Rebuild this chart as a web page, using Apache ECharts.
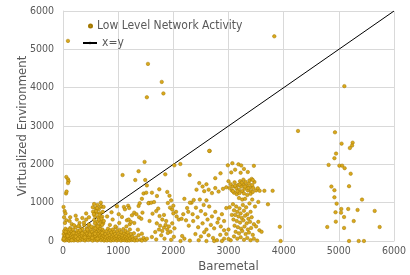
<!DOCTYPE html>
<html>
<head>
<meta charset="utf-8">
<script src="https://cdn.jsdelivr.net/npm/echarts@6/dist/echarts.min.js"></script>
<style>
  html, body { margin: 0; padding: 0; background: #fff; }
  #chart { width: 410px; height: 275px; }
</style>
</head>
<body>
<div id="chart"></div>
<script>
// tick labels
var xTicks = [0, 1000, 2000, 3000, 4000, 5000, 6000];
var yTicks = [0, 1000, 2000, 3000, 4000, 5000, 6000];

// Low Level Network Activity, [baremetal, virtualized]
// dense mass near the origin
var denseLow = [
  [5,35],[12,180],[18,95],[22,260],[30,12],[38,140],[44,320],[51,70],[58,210],[66,25],[73,160],[79,290],
  [88,45],[94,115],[102,230],[109,8],[117,175],[124,60],[131,340],[139,130],[146,20],[153,250],[161,90],
  [168,185],[176,40],[184,300],[191,120],[198,15],[207,220],[214,75],[222,150],[229,360],[237,30],[245,195],
  [252,100],[260,270],[268,10],[275,145],[283,55],[291,230],[298,380],[306,110],[314,20],[321,175],[329,260],
  [337,65],[344,140],[352,310],[360,35],[367,210],[375,90],[383,420],[390,160],[398,15],[406,250],[413,120],
  [421,50],[429,330],[436,190],[444,80],[452,270],[459,25],[467,150],[475,390],[482,100],[490,210],[498,40],
  [505,300],[513,130],[521,60],[528,240],[536,10],[544,170],[552,350],[559,85],[567,200],[575,30],[583,280],
  [590,120],[598,50],[606,230],[614,160],[621,15],[629,310],[637,95],[645,190],[652,40],[660,260],[668,130],
  [676,70],[684,220],[691,20],[699,170],[707,90],[715,300],[723,45],[730,140],[738,250],[746,10],[754,120],
  [15,60],[48,240],[83,130],[120,300],[158,20],[190,210],[233,110],[270,60],[310,280],[348,200],[395,95],
  [440,300],[485,170],[530,80],[580,190],[625,60],[670,330],[710,210]
];
// sparse points above the mass and the plume near 600
var lowUpper = [
  [60,1670],[90,1610],[100,1560],[90,1510],[55,1240],[65,1290],[10,890],[30,780],[45,720],[20,620],
  [60,540],[35,470],[120,520],[160,440],[250,560],[300,470],[350,600],[280,390],[200,410],[420,560],
  [380,480],[470,430],[420,720],[470,620],[230,660],[130,620],
  [564,965],[624,939],[685,1000],[588,852],[648,826],[697,896],[545,765],[606,739],[667,722],[576,652],
  [636,617],[709,635],[564,548],[624,504],[685,530],[606,417],[667,391],[588,330],[727,461],[515,374],
  [540,880],[600,780],[650,560],[700,580],[720,760],[560,700],[620,860],[680,450],[740,520],[690,910],
  [630,380],[580,460],[660,680],[710,420]
];
// band from 760 to 1500
var midLow = [
  [765,40],[772,180],[780,95],[790,260],[798,15],[806,130],[815,320],[822,60],[830,200],[839,25],[847,150],
  [855,280],[863,80],[871,10],[880,220],[888,110],[896,45],[904,300],[912,160],[920,20],[929,240],[937,90],
  [945,180],[953,50],[961,350],[970,130],[978,15],[986,260],[994,70],[1003,190],[1011,35],[1019,110],
  [1027,290],[1036,55],[1044,170],[1052,10],[1060,230],[1069,90],[1077,140],[1085,30],[1094,310],[1102,75],
  [1110,200],[1118,20],[1127,120],[1135,260],[1143,50],[1152,170],[1160,10],[1168,90],[1177,220],[1185,40],
  [1194,140],[1203,15],[1212,300],[1221,70],[1232,180],[1245,25],[1258,110],[1270,40],[1285,200],[1300,15],
  [1320,90],[1345,20],[1370,150],[1400,35],[1430,10],[1460,80],[1490,25],
  [736,890],[977,906],[1104,888],[1123,827],[1068,627],[1159,540],[1292,470],[1358,296],[1250,670],
  [1190,560],[1210,440],[1230,500],[850,420],[900,560],[950,380],[1020,470],[800,640],[880,750],[1010,700],
  [1150,380],[1180,920],[1200,860],[1290,740],[1330,700],[1380,620],[1420,580],[1440,740],[1370,915],
  [1390,985],[1430,1100]
];
// scatter between 1000 and 3000
var midScatter = [
  [1080,1720],[1310,1590],[1370,1820],[1479,2064],[1490,1590],[1520,1450],[1460,1240],[1509,1260],
  [1612,1260],[1703,1174],[1745,1349],[1557,993],[1551,984],[1623,714],[1726,845],[1569,522],[1672,235],
  [1430,191],[1521,61],[1611,104],[1890,1280],[1930,1180],[1960,1060],[1900,990],[1940,870],[2000,920],
  [2050,760],[1980,820],[2297,1722],[2127,2009],[2018,1974],[1854,1740],[2200,1100],[2330,1000],[2370,1070],
  [1700,460],[1760,400],[1740,300],[1800,260],[1830,350],[1860,420],[1890,300],[1920,380],[1950,240],
  [1980,460],[2020,330],[2000,720],[2060,640],[2100,560],[2150,580],[2180,700],[2230,540],[2270,760],
  [1600,1000],[1650,1017],[1690,780],[1750,650],[1800,560],[1830,680],[1870,520],[1900,210],[1780,150],
  [1840,60],[1960,30],[2010,110],[2160,130],[2200,60],[2300,10],[2130,0],[1690,40],
  [2470,1510],[2420,1340],[2530,1420],[2600,1480],[2560,1300],[2640,1340],[2700,1250],[2760,1380],
  [2820,1290],[2900,1360],[2960,1400],[2855,1766],[2988,1974],[2760,1640],[2660,2350],[2300,1000],
  [2480,1080],[2550,940],[2600,1060],[2650,900],[2410,870],[2250,860],[2350,700],[2440,620],[2500,780],
  [2580,700],[2620,560],[2700,640],[2760,760],[2820,580],[2880,700],[2920,520],[2960,860],[2280,400],
  [2360,520],[2450,360],[2530,460],[2600,300],[2680,420],[2740,330],[2800,480],[2860,380],[2920,280],
  [2400,180],[2500,120],[2560,230],[2640,150],[2720,80],[2790,20],[2850,160],[2920,60],[2460,20],
  [2600,0],[2740,0],[2880,0],[2960,180]
];
// cluster around 3000-3500
var cluster3k = [
  [3070,2030],[3180,2000],[3230,1970],[3280,1880],[3350,1800],[3460,1960],[3120,1860],[3050,1790],[3220,1780],
  [3000,1560],[3040,1480],[3080,1420],[3110,1530],[3140,1380],[3170,1460],[3190,1340],[3210,1560],[3230,1420],
  [3250,1300],[3270,1480],[3290,1360],[3310,1540],[3330,1440],[3350,1320],[3370,1500],[3390,1400],[3410,1300],
  [3430,1460],[3450,1380],[3470,1540],[3060,1320],[3100,1260],[3150,1220],[3200,1250],[3280,1240],[3340,1200],
  [3400,1230],[3120,1440],[3160,1300],[3300,1420],[3360,1380],[3240,1520],[3020,1380],[3080,1300],[3200,1470],
  [3440,1280],[3500,1320],[3380,1580],[3420,1620],[3270,1600],[3440,1590],[3530,1375],[3650,1310],[3565,1310],
  [3080,960],[3140,900],[3200,850],[3260,940],[3320,880],[3380,980],[3100,800],[3160,760],[3220,720],
  [3280,790],[3340,700],[3400,760],[3120,680],[3180,640],[3240,600],[3300,660],[3360,580],[3420,620],
  [3090,560],[3150,520],[3210,480],[3270,540],[3330,460],[3390,500],[3460,440],[3110,400],[3170,360],
  [3230,320],[3290,380],[3350,300],[3410,340],[3130,240],[3190,200],[3250,260],[3310,180],[3370,220],
  [3440,160],[3500,380],[3540,500],[3560,280],[3100,120],[3160,60],[3220,100],[3280,30],[3340,80],
  [3400,20],[3460,60],[3520,10],[3040,20],[3000,50],[3060,680],[3020,880],[3000,300],[3250,1080],
  [3190,1120],[3300,1100],[3430,1080],[3540,1020],[3480,900],[3600,240],[3715,957],[3800,1310],
  [3930,370],[3945,0]
];
// far right and top outliers
var farRight = [
  [4260,2870],[4930,2835],[5050,2540],[5250,2565],[5240,2490],[5200,2425],[4950,2280],[4920,2160],
  [4815,1985],[5010,1965],[5060,1965],[5105,1900],[5215,1755],[4865,1420],[5185,1430],[4920,1325],
  [4920,1140],[4960,975],[5420,1080],[5045,835],[5170,835],[5040,740],[4940,750],[5340,810],[5650,785],
  [5095,625],[5270,520],[4945,505],[4790,365],[5740,365],[5095,340],[5185,0],[5360,0],[5455,0],
  [5100,4040]
];
var outliers = [
  [90,5220],[3830,5340],[1540,4620],[1790,4150],[1820,3850],[1520,3750],[2650,2350]
];
var activity = denseLow.concat(lowUpper, midLow, midScatter, cluster3k, farRight, outliers);

// x=y reference line
var identityLine = [[0, 0], [6000, 6000]];

var font = "'Liberation Sans Narrow', 'DejaVu Sans Condensed', sans-serif";
var labelText = { fontFamily: font, fontSize: 12, color: '#595959' };
var chart = echarts.init(document.getElementById('chart'));
var option = {
  animation: false,
  textStyle: { fontFamily: font },
  grid: { left: 63, right: 16, top: 11, bottom: 34, containLabel: false, outerBoundsMode: 'none' },
  legend: [
    {
      orient: 'vertical',
      left: 83,
      top: 15,
      itemWidth: 3,
      itemHeight: 3,
      textStyle: labelText,
      data: [{ name: 'Low Level Network Activity', icon: 'circle' }]
    },
    {
      orient: 'vertical',
      left: 77,
      top: 32,
      itemWidth: 14,
      itemHeight: 3,
      textStyle: labelText,
      data: [{ name: 'x=y', lineStyle: { width: 2 } }]
    }
  ],
  xAxis: {
    type: 'value',
    min: xTicks[0],
    max: xTicks[xTicks.length - 1],
    interval: 1000,
    name: 'Baremetal',
    nameLocation: 'middle',
    nameGap: 19,
    nameMoveOverlap: false,
    nameTextStyle: { fontFamily: font, fontSize: 13, color: '#595959' },
    axisLine: { show: true, lineStyle: { color: '#d9d9d9' } },
    axisTick: { show: false },
    axisLabel: { fontFamily: font, fontSize: 10.5, color: '#595959', margin: 5,
      formatter: function (v) { return String(v); } },
    splitLine: { show: true, lineStyle: { color: '#d9d9d9', width: 1 } }
  },
  yAxis: {
    type: 'value',
    min: yTicks[0],
    max: yTicks[yTicks.length - 1],
    interval: 1000,
    name: 'Virtualized Environment',
    nameLocation: 'middle',
    nameGap: 34,
    nameMoveOverlap: false,
    nameTextStyle: { fontFamily: font, fontSize: 13, color: '#595959' },
    axisLine: { show: true, lineStyle: { color: '#d9d9d9' } },
    axisTick: { show: false },
    axisLabel: { fontFamily: font, fontSize: 10.5, color: '#595959', margin: 9,
      formatter: function (v) { return String(v); } },
    splitLine: { show: true, lineStyle: { color: '#d9d9d9', width: 1 } }
  },
  series: [
    {
      name: 'Low Level Network Activity',
      type: 'scatter',
      symbol: 'circle',
      symbolSize: 3.5,
      z: 3,
      itemStyle: { color: '#D9A81C', borderColor: '#A37800', borderWidth: 0.5, opacity: 1 },
      data: activity
    },
    {
      name: 'x=y',
      type: 'line',
      symbol: 'none',
      z: 2,
      lineStyle: { color: '#000000', width: 1 },
      itemStyle: { color: '#000000' },
      data: identityLine
    }
  ]
};
chart.setOption(option);
</script>
</body>
</html>
